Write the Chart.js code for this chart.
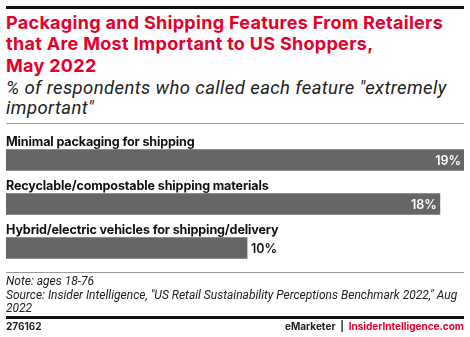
<!DOCTYPE html>
<html>
<head>
<meta charset="utf-8">
<script src="https://cdn.jsdelivr.net/npm/chart.js@4"></script>
<style>
  body { margin: 0; width: 470px; height: 337px; background: #fff; position: relative; overflow: hidden; font-family: Inter, "Liberation Sans", sans-serif; }
  .rule { position: absolute; left: 6px; width: 458px; }
  #title { position: absolute; left: 6px; top: 11.5px; width: 462px; color: #e4002b; font-weight: 700; font-size: 18px; line-height: 21.5px; letter-spacing: 0.3px; }
  #sub { position: absolute; left: 6px; top: 77.5px; width: 460px; color: #222; font-style: italic; font-size: 18.5px; line-height: 20.5px; letter-spacing: 0.4px; font-family: Roboto, sans-serif; }
  #chartBox { position: absolute; left: 6px; top: 128px; width: 458px; height: 145px; }
  #note { position: absolute; left: 6px; top: 275px; width: 460px; color: #222; font-style: italic; font-size: 12px; line-height: 13.5px; font-family: Roboto, sans-serif; }
  #id { position: absolute; left: 6px; top: 320px; font-size: 10px; line-height: 12px; font-weight: 700; color: #222; }
  #brand { position: absolute; right: 6px; top: 320px; font-size: 10px; line-height: 12px; font-weight: 700; color: #222; }
  #brand span { color: #e4002b; }
</style>
</head>
<body>
<div class="rule" style="top:6px;height:2.5px;background:#111"></div>
<div id="title">Packaging and Shipping Features From Retailers<br>that Are Most Important to US Shoppers,<br>May 2022</div>
<div id="sub">% of respondents who called each feature "extremely important"</div>
<div class="rule" style="top:123px;height:1px;background:#999"></div>
<div id="chartBox"><canvas id="c"></canvas></div>
<div class="rule" style="top:272px;height:1px;background:#999"></div>
<div id="note">Note: ages 18-76<br>Source: Insider Intelligence, "US Retail Sustainability Perceptions Benchmark 2022," Aug 2022</div>
<div class="rule" style="top:316px;height:2.5px;background:#111"></div>
<div id="id">276162</div>
<div id="brand">eMarketer &nbsp;|&nbsp; <span>InsiderIntelligence.com</span></div>
<script>
const categories = ['Minimal packaging for shipping', 'Recyclable/compostable shipping materials', 'Hybrid/electric vehicles for shipping/delivery']
const values = [19, 18, 10]

// draws the category name above each bar and the % value at its end
const barText = {
  id: 'barText',
  afterDatasetsDraw(chart) {
    const ctx = chart.ctx
    const meta = chart.getDatasetMeta(0)
    const area = chart.chartArea
    ctx.save()
    meta.data.forEach((bar, i) => {
      const top = bar.y - bar.height / 2
      ctx.fillStyle = '#111'
      ctx.font = '700 12.6px Inter, sans-serif'
      ctx.letterSpacing = '-0.15px'
      ctx.textAlign = 'left'
      ctx.textBaseline = 'alphabetic'
      ctx.fillText(categories[i], area.left, top - 3.5)
      ctx.letterSpacing = '0px'
      ctx.font = '600 12.5px Inter, sans-serif'
      ctx.textBaseline = 'middle'
      const txt = values[i] + '%'
      // long bars get the value inside, short ones outside
      if (bar.x - bar.base > (area.right - area.left) * 0.6) {
        ctx.fillStyle = '#fff'
        ctx.textAlign = 'right'
        ctx.fillText(txt, bar.x - 3, bar.y + 1)
      } else {
        ctx.fillStyle = '#111'
        ctx.textAlign = 'left'
        ctx.fillText(txt, bar.x + 4, bar.y + 1)
      }
    })
    ctx.restore()
  }
}

new Chart(document.getElementById('c'), {
  type: 'bar',
  data: {
    labels: categories,
    datasets: [{
      data: values,
      backgroundColor: '#666666',
      borderWidth: 0,
      barThickness: 21,
    }]
  },
  options: {
    indexAxis: 'y',
    responsive: true,
    maintainAspectRatio: false,
    animation: false,
    layout: { padding: { top: 10, bottom: 3, left: 0, right: 0 } },
    plugins: { legend: { display: false }, tooltip: { enabled: false } },
    scales: {
      x: { display: false, min: 0, max: 19 },
      y: { display: false }
    }
  },
  plugins: [barText]
})
</script>
</body>
</html>
